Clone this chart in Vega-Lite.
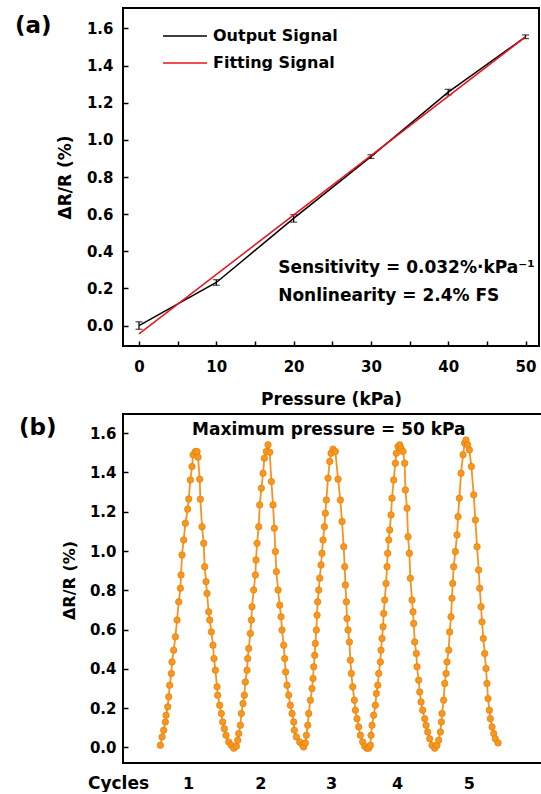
{
  "$schema": "https://vega.github.io/schema/vega-lite/v6.json",
  "padding": {"left": 14, "top": 7, "right": 0, "bottom": 0},
  "background": "white",
  "spacing": 5,
  "datasets": {
    "meas": [
      {"p": 0, "v": 0.0, "lo": -0.02, "hi": 0.02},
      {"p": 10, "v": 0.232, "lo": 0.217, "hi": 0.247},
      {"p": 20, "v": 0.577, "lo": 0.557, "hi": 0.597},
      {"p": 30, "v": 0.91, "lo": 0.9, "hi": 0.92},
      {"p": 40, "v": 1.257, "lo": 1.242, "hi": 1.272},
      {"p": 50, "v": 1.555, "lo": 1.545, "hi": 1.565}
    ],
    "fit": [
      {"p": 0, "v": -0.045},
      {"p": 50, "v": 1.555}
    ],
    "cyc": [
      {"t":0.534,"v":0.010},{"t":0.558,"v":0.053},{"t":0.581,"v":0.087},{"t":0.605,"v":0.129},{"t":0.615,"v":0.163},{"t":0.639,"v":0.206},{"t":0.653,"v":0.257},{"t":0.667,"v":0.316},{"t":0.691,"v":0.376},{"t":0.700,"v":0.435},{"t":0.724,"v":0.495},{"t":0.748,"v":0.563},{"t":0.772,"v":0.648},{"t":0.796,"v":0.741},{"t":0.820,"v":0.810},{"t":0.829,"v":0.878},{"t":0.843,"v":0.980},{"t":0.867,"v":1.056},{"t":0.891,"v":1.141},{"t":0.924,"v":1.213},{"t":0.939,"v":1.265},{"t":0.962,"v":1.362},{"t":0.986,"v":1.430},{"t":1.001,"v":1.490},{"t":1.034,"v":1.507},{"t":1.058,"v":1.507},
      {"t":1.072,"v":1.478},{"t":1.096,"v":1.366},{"t":1.105,"v":1.264},{"t":1.129,"v":1.124},{"t":1.153,"v":1.039},{"t":1.167,"v":0.920},{"t":1.186,"v":0.844},{"t":1.200,"v":0.784},{"t":1.224,"v":0.690},{"t":1.239,"v":0.648},{"t":1.262,"v":0.588},{"t":1.286,"v":0.520},{"t":1.300,"v":0.452},{"t":1.320,"v":0.393},{"t":1.343,"v":0.308},{"t":1.353,"v":0.265},{"t":1.381,"v":0.214},{"t":1.405,"v":0.172},{"t":1.424,"v":0.129},{"t":1.448,"v":0.095},{"t":1.472,"v":0.061},{"t":1.510,"v":0.027},{"t":1.548,"v":0.010},
      {"t":1.581,"v":-0.005},{"t":1.620,"v":0.005},{"t":1.639,"v":0.036},{"t":1.653,"v":0.070},{"t":1.677,"v":0.112},{"t":1.691,"v":0.172},{"t":1.715,"v":0.223},{"t":1.734,"v":0.265},{"t":1.748,"v":0.333},{"t":1.772,"v":0.393},{"t":1.781,"v":0.452},{"t":1.796,"v":0.503},{"t":1.820,"v":0.580},{"t":1.834,"v":0.648},{"t":1.843,"v":0.716},{"t":1.867,"v":0.801},{"t":1.891,"v":0.878},{"t":1.900,"v":0.954},{"t":1.915,"v":1.039},{"t":1.939,"v":1.124},{"t":1.953,"v":1.235},{"t":1.977,"v":1.320},{"t":2.001,"v":1.396},{"t":2.020,"v":1.473},{"t":2.048,"v":1.507},{"t":2.072,"v":1.541},
      {"t":2.096,"v":1.503},{"t":2.120,"v":1.354},{"t":2.143,"v":1.235},{"t":2.162,"v":1.116},{"t":2.177,"v":0.997},{"t":2.191,"v":0.895},{"t":2.215,"v":0.801},{"t":2.239,"v":0.724},{"t":2.258,"v":0.665},{"t":2.272,"v":0.597},{"t":2.296,"v":0.520},{"t":2.310,"v":0.452},{"t":2.324,"v":0.384},{"t":2.343,"v":0.316},{"t":2.367,"v":0.265},{"t":2.391,"v":0.214},{"t":2.415,"v":0.172},{"t":2.439,"v":0.129},{"t":2.448,"v":0.087},{"t":2.477,"v":0.053},{"t":2.524,"v":0.027},{"t":2.567,"v":0.010},
      {"t":2.581,"v":0.002},{"t":2.605,"v":0.022},{"t":2.620,"v":0.061},{"t":2.639,"v":0.112},{"t":2.653,"v":0.172},{"t":2.677,"v":0.240},{"t":2.700,"v":0.299},{"t":2.715,"v":0.350},{"t":2.724,"v":0.410},{"t":2.739,"v":0.469},{"t":2.748,"v":0.529},{"t":2.762,"v":0.597},{"t":2.772,"v":0.673},{"t":2.781,"v":0.741},{"t":2.796,"v":0.801},{"t":2.810,"v":0.861},{"t":2.829,"v":0.929},{"t":2.843,"v":0.988},{"t":2.858,"v":1.056},{"t":2.877,"v":1.124},{"t":2.891,"v":1.192},{"t":2.905,"v":1.260},{"t":2.929,"v":1.371},{"t":2.953,"v":1.456},{"t":2.972,"v":1.498},{"t":3.000,"v":1.519},{"t":3.034,"v":1.507},
      {"t":3.072,"v":1.366},{"t":3.105,"v":1.260},{"t":3.129,"v":1.150},{"t":3.153,"v":1.022},{"t":3.167,"v":0.920},{"t":3.177,"v":0.827},{"t":3.191,"v":0.741},{"t":3.200,"v":0.656},{"t":3.215,"v":0.597},{"t":3.234,"v":0.537},{"t":3.248,"v":0.444},{"t":3.262,"v":0.376},{"t":3.281,"v":0.308},{"t":3.305,"v":0.240},{"t":3.320,"v":0.189},{"t":3.343,"v":0.146},{"t":3.367,"v":0.104},{"t":3.391,"v":0.061},{"t":3.424,"v":0.027},{"t":3.453,"v":0.005},{"t":3.486,"v":-0.005},
      {"t":3.510,"v":-0.005},{"t":3.534,"v":0.010},{"t":3.543,"v":0.061},{"t":3.558,"v":0.112},{"t":3.581,"v":0.163},{"t":3.605,"v":0.214},{"t":3.620,"v":0.274},{"t":3.639,"v":0.316},{"t":3.653,"v":0.376},{"t":3.677,"v":0.435},{"t":3.686,"v":0.495},{"t":3.700,"v":0.554},{"t":3.715,"v":0.614},{"t":3.724,"v":0.682},{"t":3.739,"v":0.750},{"t":3.758,"v":0.835},{"t":3.772,"v":0.920},{"t":3.781,"v":0.988},{"t":3.796,"v":1.056},{"t":3.810,"v":1.107},{"t":3.829,"v":1.184},{"t":3.843,"v":1.269},{"t":3.867,"v":1.362},{"t":3.891,"v":1.447},{"t":3.905,"v":1.498},{"t":3.929,"v":1.532},{"t":3.953,"v":1.541},{"t":3.972,"v":1.524},{"t":4.000,"v":1.507},
      {"t":4.024,"v":1.447},{"t":4.034,"v":1.311},{"t":4.058,"v":1.218},{"t":4.072,"v":1.073},{"t":4.091,"v":0.988},{"t":4.105,"v":0.861},{"t":4.129,"v":0.750},{"t":4.143,"v":0.690},{"t":4.153,"v":0.631},{"t":4.167,"v":0.537},{"t":4.191,"v":0.478},{"t":4.200,"v":0.410},{"t":4.224,"v":0.342},{"t":4.239,"v":0.282},{"t":4.258,"v":0.231},{"t":4.281,"v":0.189},{"t":4.310,"v":0.146},{"t":4.329,"v":0.112},{"t":4.353,"v":0.078},{"t":4.381,"v":0.044},{"t":4.415,"v":0.010},{"t":4.453,"v":-0.005},
      {"t":4.486,"v":0.010},{"t":4.510,"v":0.036},{"t":4.534,"v":0.078},{"t":4.548,"v":0.129},{"t":4.558,"v":0.172},{"t":4.581,"v":0.240},{"t":4.596,"v":0.325},{"t":4.615,"v":0.376},{"t":4.629,"v":0.435},{"t":4.653,"v":0.495},{"t":4.667,"v":0.588},{"t":4.686,"v":0.665},{"t":4.700,"v":0.759},{"t":4.710,"v":0.835},{"t":4.724,"v":0.920},{"t":4.748,"v":0.997},{"t":4.772,"v":1.082},{"t":4.786,"v":1.175},{"t":4.805,"v":1.269},{"t":4.829,"v":1.396},{"t":4.858,"v":1.490},{"t":4.881,"v":1.549},{"t":4.900,"v":1.566},{"t":4.924,"v":1.541},{"t":4.948,"v":1.515},
      {"t":4.977,"v":1.430},{"t":5.010,"v":1.286},{"t":5.034,"v":1.158},{"t":5.058,"v":1.022},{"t":5.081,"v":0.903},{"t":5.096,"v":0.810},{"t":5.115,"v":0.716},{"t":5.129,"v":0.639},{"t":5.148,"v":0.554},{"t":5.167,"v":0.478},{"t":5.186,"v":0.401},{"t":5.200,"v":0.325},{"t":5.215,"v":0.248},{"t":5.234,"v":0.189},{"t":5.248,"v":0.146},{"t":5.272,"v":0.104},{"t":5.296,"v":0.070},{"t":5.319,"v":0.044},{"t":5.358,"v":0.022}
    ]
  },
  "vconcat": [
    {
      "width": 416,
      "height": 338,
      "title": {"text": "(a)", "anchor": "start", "frame": "group", "orient": "top", "offset": -41, "dx": -108, "baseline": "middle", "align": "left", "fontSize": 23, "fontWeight": "bold", "font": "DejaVu Sans", "color": "black"},
      "layer": [
        {
          "data": {"name": "meas"},
          "mark": {"type": "line", "strokeWidth": 1.5},
          "encoding": {
            "x": {"field": "p", "type": "quantitative", "scale": {"domain": [-2.07, 51.74], "nice": false, "zero": false},
                  "axis": {"title": "Pressure (kPa)", "values": [0,5,10,15,20,25,30,35,40,45,50], "labelExpr": "datum.value % 10 === 0 ? datum.value : ''", "labelPadding": 18, "titlePadding": 17}},
            "y": {"field": "v", "type": "quantitative", "scale": {"domain": [-0.11, 1.71], "nice": false, "zero": false},
                  "axis": {"title": "ΔR/R (%)", "values": [0,0.1,0.2,0.3,0.4,0.5,0.6,0.7,0.8,0.9,1.0,1.1,1.2,1.3,1.4,1.5,1.6], "labelExpr": "round(datum.value*10) % 2 === 0 ? format(datum.value, '.1f') : ''", "labelPadding": 15, "titlePadding": 12}},
            "color": {"datum": "Output Signal", "type": "nominal",
                      "scale": {"domain": ["Output Signal", "Fitting Signal"], "range": ["black", "#e8141b"]},
                      "legend": {"title": null, "orient": "none", "legendX": 50, "legendY": 16, "symbolType": "M-2,0L2,0", "symbolSize": 484, "symbolStrokeWidth": 1.5, "rowPadding": 7, "labelFont": "DejaVu Sans", "labelFontWeight": "bold", "labelFontSize": 16, "labelColor": "black", "labelOffset": 16}}
          }
        },
        {
          "data": {"name": "meas"},
          "mark": {"type": "rule", "color": "black", "strokeWidth": 1.2},
          "encoding": {
            "x": {"field": "p", "type": "quantitative"},
            "y": {"field": "lo", "type": "quantitative"},
            "y2": {"field": "hi"}
          }
        },
        {
          "data": {"name": "meas"},
          "mark": {"type": "point", "shape": "stroke", "size": 49, "color": "black", "strokeWidth": 1.2, "filled": false},
          "encoding": {
            "x": {"field": "p", "type": "quantitative"},
            "y": {"field": "lo", "type": "quantitative"}
          }
        },
        {
          "data": {"name": "meas"},
          "mark": {"type": "point", "shape": "stroke", "size": 49, "color": "black", "strokeWidth": 1.2, "filled": false},
          "encoding": {
            "x": {"field": "p", "type": "quantitative"},
            "y": {"field": "hi", "type": "quantitative"}
          }
        },
        {
          "data": {"name": "fit"},
          "mark": {"type": "line", "strokeWidth": 1.5},
          "encoding": {
            "x": {"field": "p", "type": "quantitative"},
            "y": {"field": "v", "type": "quantitative"},
            "color": {"datum": "Fitting Signal", "type": "nominal"}
          }
        },
        {
          "data": {"values": [{}]},
          "mark": {"type": "text", "text": "Sensitivity = 0.032%·kPa⁻¹", "align": "left", "baseline": "middle", "font": "DejaVu Sans", "fontWeight": "bold", "fontSize": 17, "color": "black"},
          "encoding": {"x": {"datum": 18.0}, "y": {"datum": 0.308}}
        },
        {
          "data": {"values": [{}]},
          "mark": {"type": "text", "text": "Nonlinearity = 2.4% FS", "align": "left", "baseline": "middle", "font": "DejaVu Sans", "fontWeight": "bold", "fontSize": 17, "color": "black"},
          "encoding": {"x": {"datum": 18.0}, "y": {"datum": 0.157}}
        }
      ]
    },
    {
      "width": 420,
      "height": 349,
      "title": {"text": "(b)", "anchor": "start", "frame": "group", "orient": "top", "offset": -37, "dx": -104, "baseline": "middle", "align": "left", "fontSize": 23, "fontWeight": "bold", "font": "DejaVu Sans", "color": "black"},
      "layer": [
        {
          "data": {"name": "cyc"},
          "mark": {"type": "line", "color": "#F7931E", "strokeWidth": 1.8},
          "encoding": {
            "x": {"field": "t", "type": "quantitative", "scale": {"domain": [0, 6], "nice": false, "zero": false},
                  "axis": {"title": "Cycles", "values": [0.929, 1.963, 2.971, 3.914, 4.939], "labelExpr": "format(round(datum.value), 'd')", "ticks": false, "labelPadding": 12, "labelFontSize": 16, "titleX": -5, "titleY": 12, "titleBaseline": "top", "titleAlign": "center", "titleFontSize": 17}},
            "y": {"field": "v", "type": "quantitative", "scale": {"domain": [-0.08, 1.698], "nice": false, "zero": false},
                  "axis": {"title": "ΔR/R (%)", "values": [0,0.1,0.2,0.3,0.4,0.5,0.6,0.7,0.8,0.9,1.0,1.1,1.2,1.3,1.4,1.5,1.6], "labelExpr": "round(datum.value*10) % 2 === 0 ? format(datum.value, '.1f') : ''", "labelPadding": 12, "titlePadding": 12, "titleFontSize": 16, "titleY": 166}}
          }
        },
        {
          "data": {"name": "cyc"},
          "mark": {"type": "point", "filled": true, "size": 42, "color": "#F8961E", "stroke": "#E07800", "strokeWidth": 0.6, "opacity": 1},
          "encoding": {
            "x": {"field": "t", "type": "quantitative"},
            "y": {"field": "v", "type": "quantitative"}
          }
        },
        {
          "data": {"values": [{}]},
          "mark": {"type": "text", "text": "Maximum pressure = 50 kPa", "align": "center", "baseline": "middle", "font": "DejaVu Sans", "fontWeight": "bold", "fontSize": 17, "color": "black"},
          "encoding": {"x": {"datum": 2.94}, "y": {"datum": 1.617}}
        }
      ]
    }
  ],
  "config": {
    "font": "DejaVu Sans",
    "view": {"stroke": "black", "strokeWidth": 2},
    "axis": {
      "labelFont": "DejaVu Sans", "labelFontWeight": "bold", "labelFontSize": 15, "labelColor": "black",
      "titleFont": "DejaVu Sans", "titleFontWeight": "bold", "titleFontSize": 17, "titleColor": "black",
      "domain": false, "grid": false, "tickColor": "black", "tickWidth": 1.5, "tickSize": -5
    }
  }
}
